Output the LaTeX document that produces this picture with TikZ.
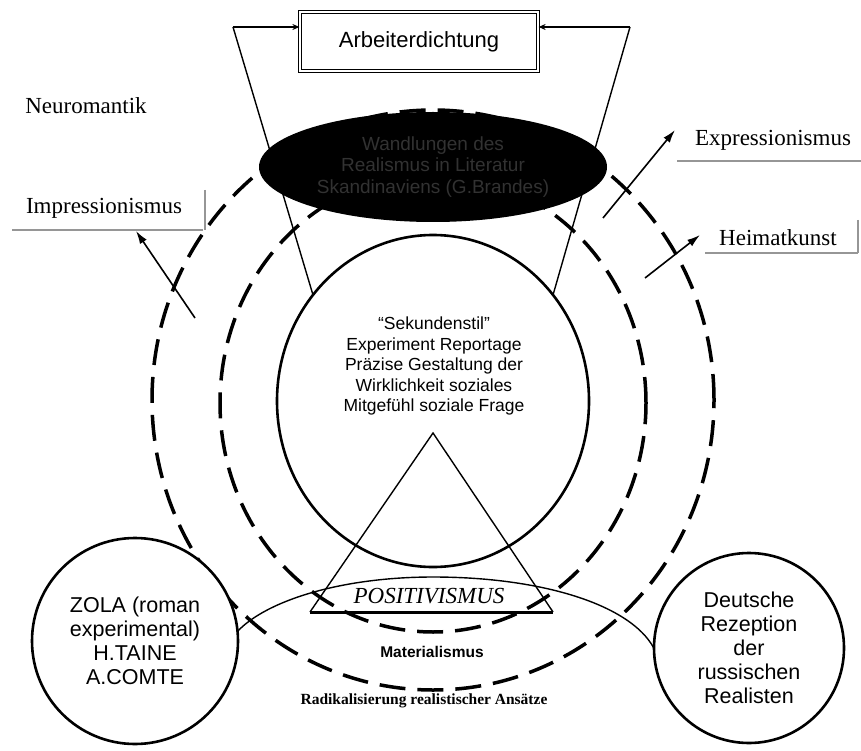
\documentclass[tikz,border=0pt]{standalone}
\usepackage{fontspec}
\setmainfont{Liberation Serif}
\setsansfont{Liberation Sans}
\usetikzlibrary{arrows.meta,shapes.geometric}

\definecolor{dimtext}{RGB}{50,50,50}
\definecolor{rulegray}{RGB}{150,150,150}

\tikzset{
  ring/.style={line width=3.5pt, dash pattern=on 26pt off 12pt},
  fine/.style={line width=1.4pt},
  lab/.style={font=\fontsize{23}{26}\selectfont, inner sep=0pt},
  kreis/.style={circle, draw, line width=2.6pt, fill=white, align=center, inner sep=0pt,
    font=\sffamily\fontsize{21.5}{24}\selectfont},
  pfeil/.style={line width=1.6pt, -{Latex[length=13pt,width=8pt]}},
  strich/.style={draw=rulegray, line width=1.2pt},
}

\begin{document}
\begin{tikzpicture}[x=1pt,y=-1pt]
    \useasboundingbox (0,0) rectangle (861,751);

    \draw[ring] (433,400) ellipse [x radius=281pt, y radius=290pt];
    \draw[ring] (433,403) ellipse [x radius=213pt, y radius=229pt];

    \draw[fine] (223,663) .. controls (223,615) and (317,577) .. (433,577)
      .. controls (555,577) and (655,612) .. (660,668);

    \node[ellipse, draw, line width=2.6pt, minimum width=312pt, minimum height=332pt] (inner) at (433,401) {};
    \node[align=center, font=\sffamily\fontsize{17.5}{20.5}\selectfont] (stil) at (434,366)
      {“Sekundenstil”\\Experiment Reportage\\Präzise Gestaltung der\\Wirklichkeit soziales\\Mitgefühl soziale Frage};

    \node[ellipse, fill=black, minimum width=348pt, minimum height=110pt, inner sep=0pt, align=center,
      text=dimtext, font=\sffamily\fontsize{19}{21.5}\selectfont] (brandes) at (433,167)
      {Wandlungen des\\Realismus in Literatur\\Skandinaviens (G.Brandes)};

    \node[draw, double, double distance=2.5pt, line width=1.2pt, minimum width=238pt, minimum height=59pt,
      font=\sffamily\fontsize{22}{26}\selectfont] (arbeit) at (419,41.5) {Arbeiterdichtung};

    \coordinate (ltop) at (233,27);
    \coordinate (rtop) at (630,27);
    \coordinate (lfoot) at (313,295);
    \coordinate (rfoot) at (553,295);
    \draw[fine, -{Stealth[length=7pt,width=6pt]}] (ltop) -- (ltop -| arbeit.west);
    \draw[fine, -{Stealth[length=7pt,width=6pt]}] (rtop) -- (rtop -| arbeit.east);
    \draw[fine] (ltop) -- (lfoot);
    \draw[fine] (rtop) -- (rfoot);

    \coordinate (apex) at (433,433);
    \coordinate (bl) at (310,612);
    \coordinate (br) at (553,612);
    \draw[fine] (bl) -- (apex) -- (br);
    \draw[line width=3pt] (bl) -- (br);
    \node[font=\itshape\fontsize{23}{26}\selectfont] (posit) at (429,596) {POSITIVISMUS};
    \node[font=\sffamily\bfseries\fontsize{15.5}{18}\selectfont] (mater) at (432,652) {Materialismus};
    \node[font=\bfseries\fontsize{15.5}{18}\selectfont] (radikal) at (424,701) {Radikalisierung realistischer Ansätze};

    \node[kreis, minimum size=206pt] (zola) at (135,641) {ZOLA (roman\\experimental)\\H.TAINE\\A.COMTE};
    \node[kreis, minimum size=190pt] (rezeption) at (749,648) {Deutsche\\Rezeption\\der\\russischen\\Realisten};

    \node[lab] (neuro) at (86,106) {Neuromantik};
    \node[lab] (impr) at (104,208) {Impressionismus};
    \node[lab] (expr) at (773,140) {Expressionismus};
    \node[lab] (heimat) at (778,238) {Heimatkunst};

    \draw[strich] (12,230) -- (203,230);
    \draw[strich] (205,190) -- (205,230);
    \draw[strich] (677,161) -- (861,161);
    \draw[strich] (705,253) -- (858,253);
    \draw[strich] (858,220) -- (858,253);

    \coordinate (imprtail) at (195,318);
    \coordinate (imprtip) at (136,231);
    \coordinate (exprtail) at (603,218);
    \coordinate (exprtip) at (675,130);
    \coordinate (heimattail) at (645,278);
    \coordinate (heimattip) at (700,235);
    \draw[pfeil] (imprtail) -- (imprtip);
    \draw[pfeil] (exprtail) -- (exprtip);
    \draw[pfeil] (heimattail) -- (heimattip);
\end{tikzpicture}
\end{document}
